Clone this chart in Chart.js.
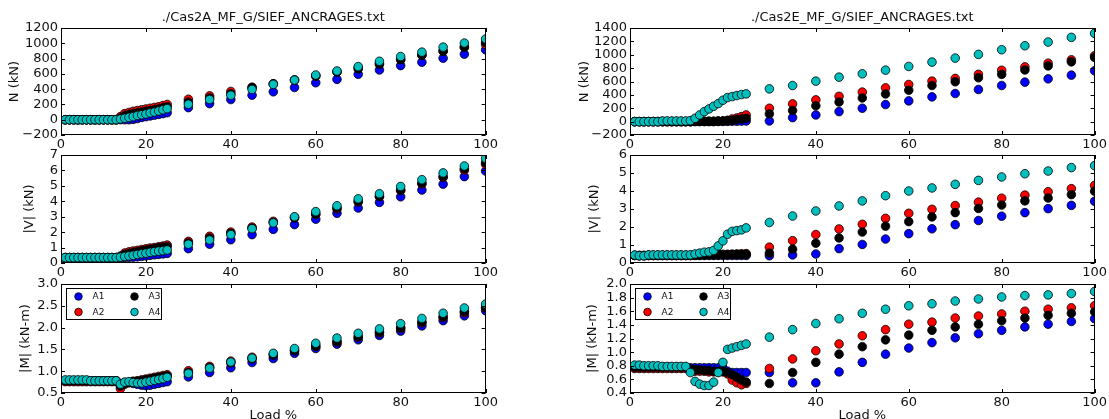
<!DOCTYPE html>
<html>
<head>
<meta charset="utf-8">
<script src="https://cdn.jsdelivr.net/npm/chart.js@4.4.0/dist/chart.umd.min.js"></script>
<style>
  html, body { margin: 0; padding: 0; background: #fff; overflow: hidden; }
  #pagina { position: relative; width: 1109px; height: 419px; overflow: hidden; }
  canvas { position: absolute; }
</style>
</head>
<body>
<div id="pagina"></div>
<script>
// Load %
const charge = [1,2,3,4,5,6,7,8,9,10,11,12,13,14,15,16,17,18,19,20,21,22,23,24,25,30,35,40,45,50,55,60,65,70,75,80,85,90,95,100]

// ./Cas2A_MF_G  -  N (kN)
const n2A_A1 = [0,0,0,0,0,0,0,0,0,0,0,0,0, 0,0,0,5,15,30,40,50,60,70,80,92, 158,211,264,321,365,422,484,528,594,651,708,752,805,858,915]
const n2A_A2 = [0,0,0,0,0,0,0,0,0,0,0,0,0, 40,80,95,110,120,130,140,150,160,170,185,200, 268,312,370,420,470,520,570,625,680,735,790,845,895,950,985]
const n2A_A3 = [0,0,0,0,0,0,0,0,0,0,0,0,0, 20,50,70,80,90,100,110,120,130,140,155,170, 230,285,340,425,470,520,575,625,665,725,785,845,900,950,1010]
const n2A_A4 = [0,0,0,0,0,0,0,0,0,0,0,0,0, 10,20,30,40,55,65,75,90,100,115,130,145, 202,264,321,396,462,519,585,638,695,765,827,884,950,1003,1056]

// ./Cas2A_MF_G  -  |V| (kN)
const v2A_A1 = [0.35,0.35,0.35,0.35,0.35,0.35,0.35,0.35,0.35,0.35,0.35,0.35,0.35, 0.35,0.36,0.37,0.38,0.40,0.43,0.46,0.50,0.53,0.56,0.59,0.62, 0.93,1.22,1.51,1.84,2.18,2.49,2.84,3.22,3.56,3.93,4.29,4.73,5.11,5.60,5.96]
const v2A_A2 = [0.35,0.35,0.35,0.35,0.35,0.35,0.35,0.35,0.35,0.35,0.35,0.35,0.35, 0.45,0.65,0.72,0.78,0.82,0.87,0.92,0.97,1.00,1.05,1.10,1.16, 1.40,1.73,2.00,2.33,2.70,2.95,3.15,3.50,3.95,4.30,4.70,5.12,5.55,6.02,6.40]
const v2A_A3 = [0.35,0.35,0.35,0.35,0.35,0.35,0.35,0.35,0.35,0.35,0.35,0.35,0.35, 0.40,0.55,0.62,0.68,0.73,0.78,0.83,0.88,0.93,0.98,1.02,1.06, 1.30,1.62,1.92,2.25,2.62,2.92,3.18,3.56,4.00,4.33,4.73,5.18,5.60,6.10,6.50]
const v2A_A4 = [0.35,0.35,0.35,0.35,0.35,0.35,0.35,0.35,0.35,0.35,0.35,0.35,0.35, 0.38,0.42,0.46,0.50,0.55,0.60,0.64,0.69,0.73,0.77,0.80,0.84, 1.22,1.49,1.84,2.22,2.60,3.00,3.33,3.71,4.16,4.49,4.96,5.40,5.84,6.29,6.78]

// ./Cas2A_MF_G  -  |M| (kN-m)
const m2A_A1 = [0.78,0.78,0.78,0.78,0.78,0.78,0.78,0.78,0.78,0.78,0.78,0.78,0.78, 0.70,0.74,0.74,0.72,0.70,0.68,0.67,0.68,0.70,0.72,0.74,0.76, 0.87,0.97,1.08,1.20,1.29,1.41,1.52,1.62,1.72,1.82,1.92,2.04,2.16,2.27,2.39]
const m2A_A2 = [0.76,0.76,0.76,0.76,0.76,0.76,0.76,0.76,0.76,0.76,0.76,0.76,0.76, 0.60,0.70,0.74,0.77,0.78,0.80,0.82,0.84,0.86,0.88,0.90,0.92, 1.01,1.11,1.23,1.32,1.37,1.47,1.57,1.67,1.78,1.88,1.98,2.11,2.23,2.34,2.45]
const m2A_A3 = [0.78,0.78,0.78,0.78,0.78,0.78,0.78,0.78,0.78,0.78,0.78,0.78,0.78, 0.66,0.72,0.74,0.76,0.77,0.78,0.80,0.82,0.84,0.86,0.87,0.89, 0.97,1.08,1.19,1.28,1.38,1.47,1.58,1.68,1.79,1.90,2.00,2.13,2.25,2.37,2.47]
const m2A_A4 = [0.80,0.80,0.80,0.80,0.80,0.80,0.78,0.78,0.78,0.78,0.78,0.78,0.78, 0.70,0.75,0.76,0.74,0.73,0.73,0.75,0.77,0.79,0.81,0.83,0.86, 0.95,1.07,1.21,1.30,1.41,1.52,1.64,1.76,1.87,1.97,2.09,2.21,2.33,2.45,2.54]

// ./Cas2E_MF_G  -  N (kN)
const n2E_A1 = [0,0,0,0,0,0,0,0,0,0,0,0,0, 0,0,0,0,0,2,3,4,5,6,8,10, 10,60,100,150,200,255,310,370,420,480,540,590,640,695,760]
const n2E_A2 = [0,0,0,0,0,0,0,0,0,0,0,0,0, 5,5,5,5,5,8,10,20,40,55,75,100, 200,265,325,378,442,505,555,606,646,707,768,818,874,924,985]
const n2E_A3 = [0,0,0,0,0,0,0,0,0,0,0,0,0, 5,5,5,5,5,8,10,15,20,30,40,50, 116,167,237,293,354,414,470,540,596,656,707,772,833,894,960]
const n2E_A4 = [0,0,0,0,0,0,10,10,10,10,10,10,15, 50,100,150,190,230,270,320,360,375,390,405,415, 490,540,605,665,715,770,825,890,950,1005,1075,1135,1190,1260,1320]

// ./Cas2E_MF_G  -  |V| (kN)
const v2E_A1 = [0.42,0.40,0.40,0.42,0.42,0.42,0.42,0.42,0.42,0.42,0.42,0.42,0.42, 0.42,0.42,0.42,0.42,0.42,0.42,0.42,0.42,0.42,0.42,0.42,0.42, 0.40,0.45,0.50,0.80,1.03,1.33,1.63,1.90,2.13,2.36,2.60,2.80,3.02,3.20,3.43]
const v2E_A2 = [0.42,0.42,0.42,0.42,0.42,0.42,0.42,0.42,0.42,0.42,0.42,0.42,0.42, 0.43,0.44,0.45,0.46,0.46,0.47,0.48,0.48,0.49,0.50,0.51,0.52, 0.88,1.24,1.58,1.89,2.15,2.48,2.76,2.98,3.19,3.38,3.60,3.77,3.96,4.13,4.31]
const v2E_A3 = [0.42,0.42,0.42,0.42,0.42,0.42,0.42,0.42,0.42,0.42,0.42,0.42,0.42, 0.43,0.44,0.45,0.46,0.46,0.47,0.47,0.47,0.48,0.48,0.48,0.48, 0.55,0.77,1.10,1.39,1.72,2.05,2.30,2.56,2.80,3.03,3.22,3.45,3.61,3.80,3.99]
const v2E_A4 = [0.44,0.40,0.40,0.45,0.45,0.45,0.45,0.45,0.45,0.45,0.45,0.45,0.45, 0.50,0.55,0.60,0.62,0.70,0.95,1.23,1.60,1.76,1.80,1.84,1.95, 2.25,2.61,2.89,3.17,3.45,3.74,4.00,4.17,4.37,4.59,4.78,4.96,5.11,5.30,5.41]

// ./Cas2E_MF_G  -  |M| (kN-m)
const m2E_A1 = [0.77,0.77,0.77,0.77,0.77,0.77,0.77,0.77,0.77,0.77,0.77,0.77,0.77, 0.77,0.77,0.77,0.77,0.77,0.77,0.77,0.72,0.70,0.70,0.70,0.70, 0.70,0.55,0.55,0.71,0.85,0.97,1.06,1.14,1.21,1.27,1.32,1.37,1.41,1.45,1.49]
const m2E_A2 = [0.76,0.76,0.76,0.76,0.76,0.76,0.76,0.76,0.76,0.76,0.76,0.76,0.73, 0.72,0.72,0.72,0.71,0.71,0.71,0.71,0.68,0.59,0.55,0.52,0.54, 0.76,0.90,1.02,1.12,1.24,1.33,1.41,1.44,1.50,1.53,1.56,1.60,1.63,1.65,1.68]
const m2E_A3 = [0.78,0.78,0.78,0.78,0.78,0.78,0.78,0.78,0.78,0.78,0.78,0.78,0.75, 0.74,0.74,0.73,0.73,0.72,0.72,0.72,0.70,0.67,0.63,0.59,0.56, 0.54,0.70,0.85,0.97,1.08,1.18,1.25,1.32,1.37,1.41,1.46,1.50,1.54,1.57,1.59]
const m2E_A4 = [0.81,0.81,0.80,0.80,0.80,0.80,0.79,0.79,0.79,0.79,0.79,0.79,0.70, 0.57,0.53,0.51,0.51,0.56,0.70,0.85,1.04,1.06,1.08,1.10,1.12, 1.22,1.33,1.42,1.49,1.57,1.63,1.68,1.71,1.75,1.78,1.81,1.83,1.84,1.86,1.89]

const nomes = ['A1', 'A2', 'A3', 'A4']
const cores = ['#0000ff', '#ff0000', '#000000', '#00bfbf']

Chart.defaults.font.family = 'DejaVu Sans'
Chart.defaults.font.size = 13
Chart.defaults.color = '#111'

function formatarEixo(casas) {
    return v => {
        const txt = casas ? Number(v).toFixed(casas) : String(Math.round(v))
        return v < 0 ? '\u2212' + txt.replace('-', '') : txt
    }
}

// cadre noir et petits traits vers l'intérieur, comme matplotlib
const moldura = {
    id: 'moldura',
    afterDatasetsDraw(chart) {
        const { ctx, chartArea: a, scales } = chart
        ctx.save()
        ctx.strokeStyle = '#000'
        ctx.lineWidth = 1
        ctx.beginPath()
        scales.x.ticks.forEach(t => {
            const px = Math.round(scales.x.getPixelForValue(t.value)) + 0.5
            ctx.moveTo(px, a.bottom); ctx.lineTo(px, a.bottom - 4)
            ctx.moveTo(px, a.top); ctx.lineTo(px, a.top + 4)
        })
        scales.y.ticks.forEach(t => {
            const py = Math.round(scales.y.getPixelForValue(t.value)) + 0.5
            ctx.moveTo(a.left, py); ctx.lineTo(a.left + 4, py)
            ctx.moveTo(a.right, py); ctx.lineTo(a.right - 4, py)
        })
        ctx.stroke()
        ctx.strokeRect(Math.round(a.left) + 0.5, Math.round(a.top) + 0.5, Math.round(a.width) - 1, Math.round(a.height) - 1)
        ctx.restore()
    }
}

// légende sur deux colonnes dans le coin haut gauche
const legenda = {
    id: 'legenda',
    afterDraw(chart, args, opts) {
        if (!opts.mostrar) return
        const { ctx, chartArea: a } = chart
        const bx = Math.round(a.left) + 5.5
        const by = Math.round(a.top) + 4.5
        ctx.save()
        ctx.fillStyle = '#fff'
        ctx.fillRect(bx, by, 95, 31)
        ctx.strokeStyle = '#000'
        ctx.lineWidth = 1
        ctx.strokeRect(bx, by, 95, 31)
        ctx.font = '9px "DejaVu Sans"'
        ctx.textBaseline = 'middle'
        chart.data.datasets.forEach((ds, i) => {
            const col = Math.floor(i / 2)
            const lin = i % 2
            const mx = bx + 12 + col * 56
            const my = by + 8 + lin * 15.5
            ctx.beginPath()
            ctx.arc(mx, my, 3.8, 0, Math.PI * 2)
            ctx.fillStyle = ds.backgroundColor
            ctx.fill()
            ctx.lineWidth = 0.8
            ctx.strokeStyle = '#000'
            ctx.stroke()
            ctx.fillStyle = '#111'
            ctx.fillText(ds.label, mx + 14, my + 0.5)
        })
        ctx.restore()
    }
}

const pagina = document.getElementById('pagina')

function grafico(cfg) {
    const canvas = document.createElement('canvas')
    canvas.width = cfg.largura
    canvas.height = cfg.altura
    canvas.style.left = cfg.x + 'px'
    canvas.style.top = cfg.y + 'px'
    pagina.appendChild(canvas)

    const datasets = cfg.series.map((serie, i) => ({
        label: nomes[i],
        data: charge.map((x, k) => ({ x: x, y: serie[k] })),
        backgroundColor: cores[i],
        borderColor: '#000',
        borderWidth: 0.8,
        pointRadius: 4.3,
        pointHoverRadius: 4.3,
        order: 4 - i,
        clip: 0
    }))

    new Chart(canvas, {
        type: 'scatter',
        data: { datasets: datasets },
        options: {
            responsive: false,
            animation: false,
            events: [],
            layout: { padding: { top: cfg.padTopo, right: cfg.padDireita, left: 0, bottom: 0 } },
            plugins: {
                legend: { display: false },
                tooltip: { enabled: false },
                title: {
                    display: !!cfg.titulo,
                    text: cfg.titulo,
                    fullSize: false,
                    color: '#111',
                    font: { size: 13, weight: 'normal' },
                    padding: { top: 10, bottom: 2.4 }
                },
                legenda: { mostrar: !!cfg.legenda }
            },
            scales: {
                x: {
                    type: 'linear',
                    min: 0,
                    max: 100,
                    ticks: { stepSize: 20, autoSkip: false, maxRotation: 0, padding: 2 },
                    grid: { display: false, drawTicks: false },
                    border: { display: false },
                    title: { display: !!cfg.tituloX, text: cfg.tituloX, padding: { top: 0, bottom: 7 } },
                    afterFit: s => { s.height = cfg.alturaX }
                },
                y: {
                    min: cfg.min,
                    max: cfg.max,
                    ticks: { stepSize: cfg.passo, autoSkip: false, padding: 3, callback: formatarEixo(cfg.casas) },
                    grid: { display: false, drawTicks: false },
                    border: { display: false },
                    title: { display: true, text: cfg.tituloY, padding: { top: cfg.padTituloY, bottom: 0 } },
                    afterFit: s => { s.width = cfg.larguraY }
                }
            }
        },
        plugins: [moldura, legenda]
    })
}

const esquerda = { x: 0, largura: 500, larguraY: 61, padDireita: 6 }
const direita = { x: 560, largura: 549, larguraY: 70, padDireita: 11 }
const linha1 = { y: 0, altura: 152, padTopo: 0, alturaX: 17 }
const linha2 = { y: 140, altura: 142, padTopo: 15, alturaX: 19 }
const linha3 = { y: 270, altura: 160, padTopo: 14, alturaX: 37, tituloX: 'Load %', legenda: true }

grafico({ ...esquerda, ...linha1, titulo: './Cas2A_MF_G/SIEF_ANCRAGES.txt', tituloY: 'N (kN)', padTituloY: 7,
    min: -200, max: 1200, passo: 200, casas: 0, series: [n2A_A1, n2A_A2, n2A_A3, n2A_A4] })
grafico({ ...esquerda, ...linha2, tituloY: '|V| (kN)', padTituloY: 22,
    min: 0, max: 7, passo: 1, casas: 0, series: [v2A_A1, v2A_A2, v2A_A3, v2A_A4] })
grafico({ ...esquerda, ...linha3, tituloY: '|M| (kN-m)', padTituloY: 18,
    min: 0.5, max: 3.0, passo: 0.5, casas: 1, series: [m2A_A1, m2A_A2, m2A_A3, m2A_A4] })

grafico({ ...direita, ...linha1, titulo: './Cas2E_MF_G/SIEF_ANCRAGES.txt', tituloY: 'N (kN)', padTituloY: 17,
    min: -200, max: 1400, passo: 200, casas: 0, series: [n2E_A1, n2E_A2, n2E_A3, n2E_A4] })
grafico({ ...direita, ...linha2, tituloY: '|V| (kN)', padTituloY: 27,
    min: 0, max: 6, passo: 1, casas: 0, series: [v2E_A1, v2E_A2, v2E_A3, v2E_A4] })
grafico({ ...direita, ...linha3, tituloY: '|M| (kN-m)', padTituloY: 25,
    min: 0.4, max: 2.0, passo: 0.2, casas: 1, series: [m2E_A1, m2E_A2, m2E_A3, m2E_A4] })
</script>
</body>
</html>
